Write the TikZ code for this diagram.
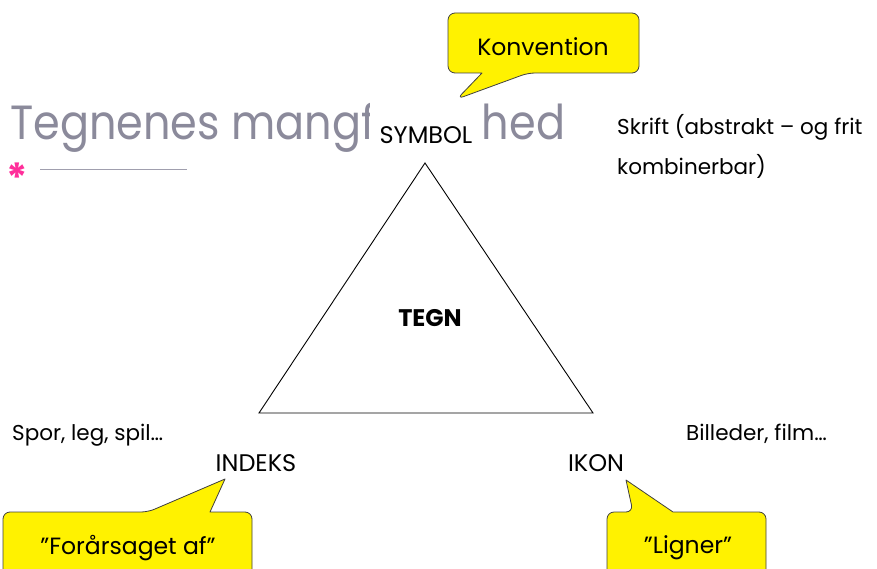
\documentclass[tikz,border=0pt]{standalone}
\usepackage{fontspec}
\setmainfont{Poppins}
\begin{document}
\begin{tikzpicture}[x=1pt,y=-1pt,
  lbl/.style={inner sep=0pt, font=\fontsize{21.5}{26}\selectfont, text=black},
  caps/.style={inner sep=0pt, font=\fontsize{24}{28}\selectfont, text=black},
  callout/.style={fill=yellow, draw=black!75, line width=0.8pt, rounded corners=7pt, line join=round},
  calltext/.style={inner sep=0pt, font=\fontsize{23.5}{28}\selectfont}
]
\definecolor{titlegray}{HTML}{8B8A9B}
\definecolor{linegray}{HTML}{A09FAE}
\definecolor{pink}{HTML}{FF2E9A}
\useasboundingbox (0,0) rectangle (877,569);
\clip (0,0) rectangle (877,569);

% title
\node[anchor=base west, inner sep=0pt, text=titlegray, font=\fontsize{48}{56}\selectfont] (title) at (10,140) {\scalebox{0.895}[1]{Tegnenes mangfoldighed}};
\node[text=pink, inner sep=0pt, font=\fontsize{40}{44}\selectfont\bfseries] (ast) at (17,178) {*};
\coordinate (l1) at (40,170);
\coordinate (l2) at (187,170);
\draw[linegray, line width=1pt] (l1) -- (l2);

% symbol label with white background covering the title
\node[caps, fill=white, inner xsep=10pt, inner ysep=32pt] (symbol) at (426,135) {SYMBOL};

% triangle
\coordinate (top) at (425,163);
\coordinate (bl) at (259,413);
\coordinate (br) at (593,413);
\draw[line width=0.9pt, line join=miter] (top) -- (bl) -- (br) -- cycle;

\node[caps, font=\fontsize{24}{28}\selectfont\bfseries] (tegn) at (430,318) {TEGN};
\node[caps] (indeks) at (256,463) {INDEKS};
\node[caps] (ikon) at (596,463) {IKON};

\node[lbl, anchor=base west] (skrift1) at (617,135) {Skrift (abstrakt – og frit};
\node[lbl, anchor=base west] (skrift2) at (617,175) {kombinerbar)};
\node[lbl, anchor=base west] (spor) at (12,440) {Spor, leg, spil…};
\node[lbl, anchor=base west] (bill) at (686,440) {Billeder, film…};

% callouts
\coordinate (k1) at (457,99);
\draw[callout] (448,13) -- (639,13) -- (639,73) -- (528,73) -- (k1) [sharp corners] -- (482,73) [rounded corners=7pt] -- (448,73) -- cycle;
\node[calltext] (konv) at (543,47) {Konvention};

\coordinate (f1) at (225,479);
\draw[callout] (3,600) -- (3,512) -- (148,512) [sharp corners] -- (f1) -- (210,512) [rounded corners=7pt] -- (252,512) -- (252,600);
\node[calltext] (for) at (128,548) {”Forårsaget af”};

\coordinate (g1) at (626,480);
\draw[callout] (607,600) -- (607,512) -- (633,512) [sharp corners] -- (g1) -- (673,512) [rounded corners=7pt] -- (766,512) -- (766,600);
\node[calltext] (lig) at (688,548) {”Ligner”};
\end{tikzpicture}
\end{document}
